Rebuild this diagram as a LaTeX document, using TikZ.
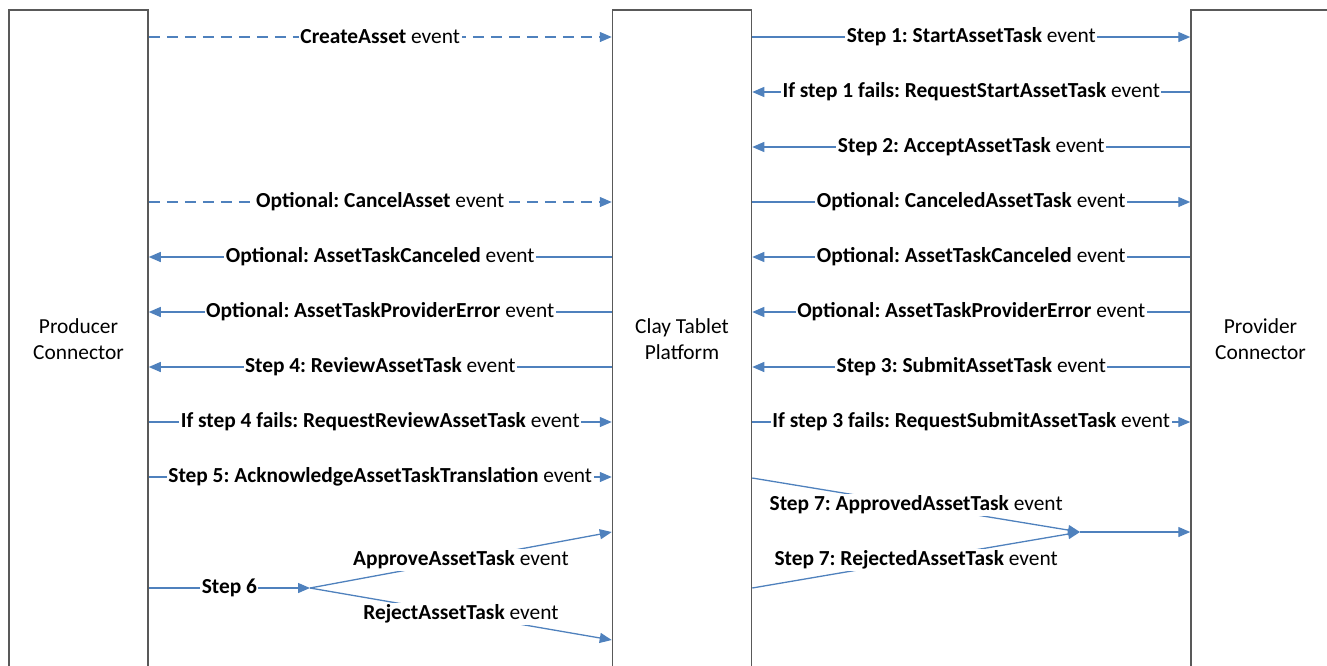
\documentclass[tikz,border=0pt]{standalone}
\usepackage{fontspec}
\setmainfont{Carlito}
\usetikzlibrary{arrows.meta}
\definecolor{eventblue}{RGB}{79,129,189}
\definecolor{boxgray}{RGB}{89,89,89}
\frenchspacing

\begin{document}
\begin{tikzpicture}[x=1pt, y=-1pt,
  every node/.style={font=\fontsize{21.4}{26}\selectfont},
  party/.style={draw=boxgray, line width=1.5pt, rectangle, minimum width=139pt, minimum height=658pt, align=center, inner sep=0pt},
  evt/.style={draw=eventblue, line width=1.3pt, -{Triangle[length=12pt,width=10pt]}},
  opt/.style={evt, dash pattern=on 11pt off 7pt},
  msg/.style={fill=white, inner sep=1.5pt}]
\useasboundingbox (0,0) rectangle (1327,665);
\clip (0,0) rectangle (1327,665);
\node[party] (producer) at (78.5,339) {Producer\\Connector};
\node[party] (platform) at (682,339) {Clay Tablet\\Platform};
\node[party] (provider) at (1260.5,339) {Provider\\Connector};
\foreach \i/\y in {1/37, 2/92, 3/147, 4/202, 5/257, 6/312, 7/367, 8/422, 9/477}
  \coordinate (r\i) at (0,\y);
\coordinate (s6) at (0,588);
\coordinate (fork6) at (310,588);
\coordinate (approve6) at (0,532);
\coordinate (reject6) at (0,640);
\coordinate (approved7) at (0,478);
\coordinate (rejected7) at (0,588);
\coordinate (join7) at (1080,532);
\draw[opt] (producer.east |- r1) -- node[msg] {\textbf{CreateAsset} event} (platform.west |- r1);
\draw[opt] (producer.east |- r4) -- node[msg] {\textbf{Optional: CancelAsset} event} (platform.west |- r4);
\draw[evt] (platform.west |- r5) -- node[msg] {\textbf{Optional: AssetTaskCanceled} event} (producer.east |- r5);
\draw[evt] (platform.west |- r6) -- node[msg] {\textbf{Optional: AssetTaskProviderError} event} (producer.east |- r6);
\draw[evt] (platform.west |- r7) -- node[msg] {\textbf{Step 4: ReviewAssetTask} event} (producer.east |- r7);
\draw[evt] (producer.east |- r8) -- node[msg] {\textbf{If step 4 fails: RequestReviewAssetTask} event} (platform.west |- r8);
\draw[evt] (producer.east |- r9) -- node[msg] {\textbf{Step 5: AcknowledgeAssetTaskTranslation} event} (platform.west |- r9);
\draw[evt] (producer.east |- s6) -- node[msg] {\textbf{Step 6}} (fork6);
\draw[evt] (fork6) -- node[msg] {\textbf{ApproveAssetTask} event} (platform.west |- approve6);
\draw[evt] (fork6) -- node[msg] {\textbf{RejectAssetTask} event} (platform.west |- reject6);
\draw[evt] (platform.east |- r1) -- node[msg] {\textbf{Step 1: StartAssetTask} event} (provider.west |- r1);
\draw[evt] (provider.west |- r2) -- node[msg] {\textbf{If step 1 fails: RequestStartAssetTask} event} (platform.east |- r2);
\draw[evt] (provider.west |- r3) -- node[msg] {\textbf{Step 2: AcceptAssetTask} event} (platform.east |- r3);
\draw[evt] (platform.east |- r4) -- node[msg] {\textbf{Optional: CanceledAssetTask} event} (provider.west |- r4);
\draw[evt] (provider.west |- r5) -- node[msg] {\textbf{Optional: AssetTaskCanceled} event} (platform.east |- r5);
\draw[evt] (provider.west |- r6) -- node[msg] {\textbf{Optional: AssetTaskProviderError} event} (platform.east |- r6);
\draw[evt] (provider.west |- r7) -- node[msg] {\textbf{Step 3: SubmitAssetTask} event} (platform.east |- r7);
\draw[evt] (platform.east |- r8) -- node[msg] {\textbf{If step 3 fails: RequestSubmitAssetTask} event} (provider.west |- r8);
\draw[evt] (platform.east |- approved7) -- node[msg] {\textbf{Step 7: ApprovedAssetTask} event} (join7);
\draw[evt] (platform.east |- rejected7) -- node[msg] {\textbf{Step 7: RejectedAssetTask} event} (join7);
\draw[evt] (join7) -- (provider.west |- join7);
\end{tikzpicture}
\end{document}
